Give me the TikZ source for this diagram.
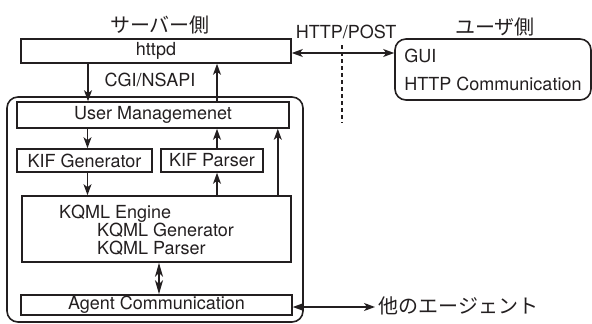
\documentclass[tikz,border=0pt]{standalone}
\usepackage{fontspec}
\setmainfont{TeX Gyre Heros}
\newfontfamily\jp{Noto Sans CJK JP}
\usetikzlibrary{positioning,arrows.meta,calc}
\definecolor{cInk}{HTML}{231F20}

\begin{document}
\begin{tikzpicture}[x=1pt,y=-1pt,font=\fontsize{18}{18}\selectfont,cInk,
  box/.style={draw=cInk,line width=1.6pt,inner sep=0pt},
  rbox/.style={box,rounded corners=11pt},
  tip/.style={Stealth[length=11pt,width=8pt,inset=3pt]},
  ar/.style={-{Stealth[length=11pt,width=8pt,inset=3pt]},line width=1.4pt},
  dar/.style={{Stealth[length=11pt,width=8pt,inset=3pt]}-{Stealth[length=11pt,width=8pt,inset=3pt]},line width=1.4pt},
  jtxt/.style={font=\jp\fontsize{20}{20}\selectfont}]
  \useasboundingbox (0,0) rectangle (592,324);
  % server side
  \node[rbox,minimum width=296pt,minimum height=225pt] (server) at (155,209.5) {};
  \node[box,fill=white,minimum width=270pt,minimum height=24pt] (httpd) at (156,51) {httpd};
  \node[box,fill=white,minimum width=272pt,minimum height=26pt] (um) at (153,115) {User Managemenet};
  \node[box,minimum width=135pt,minimum height=23pt] (kifg) at (84.5,160.5) {KIF Generator};
  \node[box,minimum width=102pt,minimum height=23pt] (kifp) at (212,160.5) {KIF Parser};
  \node[box,minimum width=269pt,minimum height=66pt] (kqml) at (156.5,229) {};
  \node[align=left] (kqmltxt) at (146.5,230)
     {KQML Engine\\\hspace{38pt}KQML Generator\\\hspace{38pt}KQML Parser};
  \node[box,minimum width=271pt,minimum height=20pt] (agent) at (156.5,305) {Agent Communication};
  % user side
  \node[rbox,minimum width=196pt,minimum height=61pt,align=left,
     font=\fontsize{18}{28}\selectfont] (gui) at (493,69.5) {GUI\\HTTP Communication};
  % labels
  \node[jtxt] (srvlbl) at (160,25) {サーバー側};
  \node[jtxt] (usrlbl) at (495,27) {ユーザ側};
  \node (cgi) at (150,80) {CGI/NSAPI};
  \node (post) at (346,32) {HTTP/POST};
  \node[jtxt,anchor=west] (other) at (375,306) {他のエージェント};
  \coordinate (dtop) at (342,45);
  \coordinate (dbot) at (342,123);
  \draw[line width=1.4pt,dash pattern=on 4pt off 3pt] (dtop) -- (dbot);
  % arrows
  \draw[ar] ([xshift=-68pt]httpd.south) -- ([xshift=-68pt]httpd.south |- um.north);
  \draw[ar] ([xshift=3pt]kifg.north |- um.south) -- ([xshift=3pt]kifg.north);
  \draw[ar] ([xshift=3pt]kifg.south) -- ([xshift=3pt]kifg.south |- kqml.north);
  \draw[ar] ([xshift=5pt]kifp.south |- kqml.north) -- ([xshift=5pt]kifp.south);
  \draw[ar] ([xshift=5pt]kifp.north) -- ([xshift=5pt]kifp.north |- um.south);
  \draw[ar] ([xshift=5pt]kifp.north |- um.north) -- ([xshift=5pt]kifp.north |- httpd.south);
  \draw[ar] ([xshift=-14pt]kqml.north east) -- ([xshift=-14pt]kqml.north east |- um.south);
  \draw[{Stealth[length=14pt,width=8pt,inset=4pt]}-{Stealth[length=14pt,width=8pt,inset=4pt]},line width=1.4pt]
     ([xshift=2.5pt]kqml.south) -- ([xshift=2.5pt]kqml.south |- agent.north);
  \draw[dar] ([yshift=-2pt]agent.east) -- ([yshift=-2pt]agent.east -| other.west);
  \draw[dar] ([yshift=-2pt]httpd.east) -- ([yshift=-2pt]httpd.east -| gui.west);
\end{tikzpicture}
\end{document}
